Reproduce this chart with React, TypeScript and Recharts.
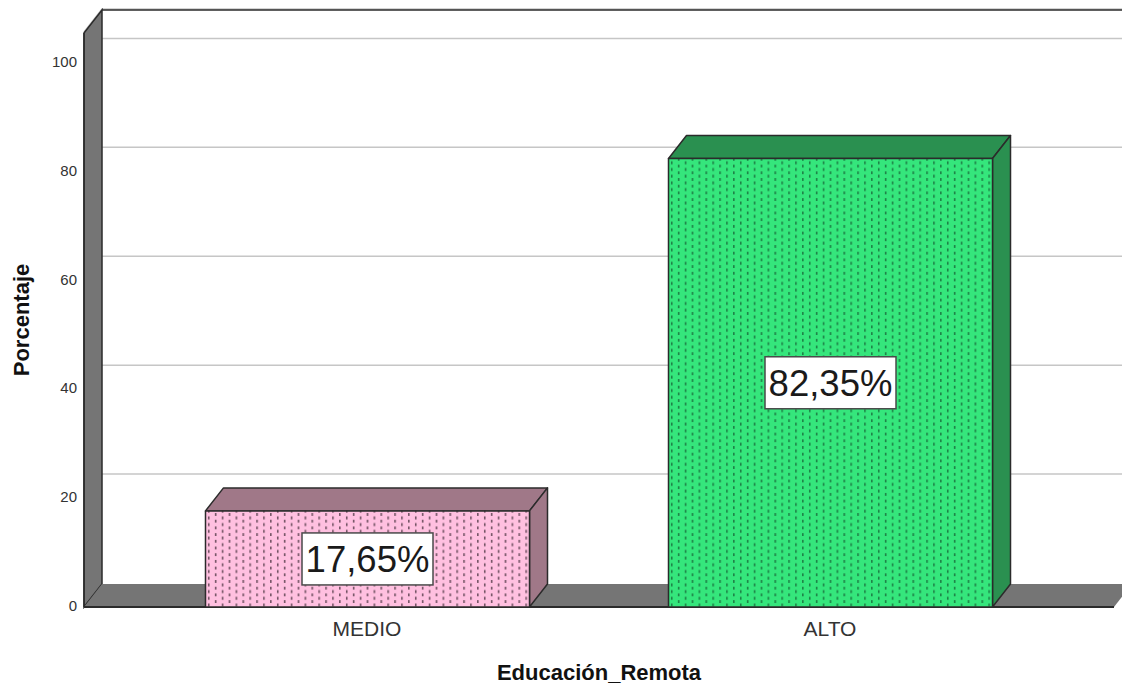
import { Bar, BarChart, CartesianGrid, LabelList, XAxis, YAxis, usePlotArea } from 'recharts';

const CATEGORIES = ['MEDIO', 'ALTO'];
const PERCENTS = [17.65, 82.35];
const Y_TICKS = [0, 20, 40, 60, 80, 100];
const FILLS = ['#FFC0E0', '#35E67C'];
const SHADES = ['#A07888', '#2A9050'];
const DOTS = ['#6A4C5C', '#1C7A42'];

const rows = CATEGORIES.map((name, index) => ({ name, percent: PERCENTS[index], index }));

const DEPTH_X = 18;
const DEPTH_Y = 23;
const FONT = '"Liberation Sans", Arial, sans-serif';
const EDGE = '#2b2b2b';

function Walls() {
  const area = usePlotArea();
  if (!area) return null;
  const { x, y, width, height } = area;
  const bottom = y + height;
  const right = x + width;
  return (
    <g>
      <polygon
        points={`${x},${y} ${x + DEPTH_X},${y - DEPTH_Y} ${x + DEPTH_X},${bottom - DEPTH_Y} ${x},${bottom}`}
        fill="#757575"
        stroke={EDGE}
        strokeWidth={1.5}
      />
      <polygon
        points={`${x},${bottom} ${x + DEPTH_X},${bottom - DEPTH_Y} ${right + DEPTH_X},${bottom - DEPTH_Y} ${right},${bottom}`}
        fill="#757575"
      />
      <line x1={x + DEPTH_X} y1={y - DEPTH_Y} x2={right + DEPTH_X} y2={y - DEPTH_Y} stroke={EDGE} strokeWidth={1.5} />
      <line x1={x} y1={bottom} x2={right} y2={bottom} stroke={EDGE} strokeWidth={2} />
    </g>
  );
}

function GridLine(props: any) {
  const { x1, x2, y1 } = props;
  if (y1 > 600) return null;
  const backY = y1 - DEPTH_Y - 1;
  const points = `${x1},${y1 - 1} ${x1 + DEPTH_X},${backY} ${x2 + DEPTH_X},${backY}`;
  return <polyline points={points} fill="none" stroke="#C6C6C6" strokeWidth={1.5} />;
}

function Bar3D(props: any) {
  const { x, y, width, height, payload } = props;
  const i = payload.index;
  const r = x + width;
  const b = y + height;
  return (
    <g stroke={EDGE} strokeWidth={1.5} strokeLinejoin="round">
      <polygon points={`${x},${y} ${x + DEPTH_X},${y - DEPTH_Y} ${r + DEPTH_X},${y - DEPTH_Y} ${r},${y}`} fill={SHADES[i]} />
      <polygon points={`${r},${y} ${r + DEPTH_X},${y - DEPTH_Y} ${r + DEPTH_X},${b - DEPTH_Y} ${r},${b}`} fill={SHADES[i]} />
      <rect x={x} y={y} width={width} height={height} fill={`url(#dots${i})`} />
    </g>
  );
}

function ValueBox(props: any) {
  const { x, y, width, height, value } = props;
  const cx = x + width / 2;
  const cy = y + height / 2;
  return (
    <g>
      <rect x={cx - 65.5} y={cy - 26} width={131} height={52} fill="#fff" stroke="#4a4a4a" strokeWidth={1.5} />
      <text x={cx} y={cy + 13.5} textAnchor="middle" fontFamily={FONT} fontSize={36.5} fill="#1a1a1a">
        {value.toFixed(2).replace('.', ',')}%
      </text>
    </g>
  );
}

export default function App() {
  return (
    <div style={{ position: 'absolute', left: 0, top: 0, width: 1122, height: 686, background: '#fff' }}>
      <BarChart
        width={1122}
        height={686}
        data={rows}
        margin={{ top: 33, right: 8, bottom: 0, left: 0 }}
        style={{ fontFamily: FONT }}
      >
        <defs>
          {FILLS.map((fill, i) => (
            <pattern key={fill} id={`dots${i}`} x={i === 0 ? 205 : 668} y={0} width={13.8} height={6.7} patternUnits="userSpaceOnUse">
              <rect width={13.8} height={6.7} fill={fill} />
              <rect x={3} y={0.5} width={1.5} height={3} fill={DOTS[i]} />
              <rect x={9.9} y={3.85} width={1.5} height={2.85} fill={DOTS[i]} />
            </pattern>
          ))}
        </defs>
        <Walls />
        <CartesianGrid vertical={false} horizontal={GridLine as any} />
        <XAxis
          dataKey="name"
          height={79}
          padding={{ left: 51.5, right: 52.5 }}
          axisLine={false}
          tickLine={false}
          tickMargin={8}
          tick={{ fontSize: 21, fill: '#333', fontFamily: FONT }}
          label={{
            value: 'Educación_Remota',
            position: 'insideBottom',
            offset: 6,
            style: { fontSize: 22, fontWeight: 700, fill: '#111', fontFamily: FONT },
          }}
        />
        <YAxis
          width={84}
          domain={[0, 105.4]}
          ticks={Y_TICKS}
          allowDataOverflow
          axisLine={{ stroke: EDGE, strokeWidth: 1.5 }}
          tickLine={false}
          tickSize={5}
          tickMargin={2}
          tick={{ fontSize: 15, fill: '#333', fontFamily: FONT, dy: -1 }}
          label={{
            value: 'Porcentaje',
            angle: -90,
            position: 'insideLeft',
            offset: 21,
            style: { fontSize: 22, fontWeight: 700, fill: '#111', fontFamily: FONT, textAnchor: 'middle' },
          }}
        />
        <Bar dataKey="percent" barSize={324} shape={Bar3D} isAnimationActive={false}>
          <LabelList dataKey="percent" content={ValueBox as any} />
        </Bar>
      </BarChart>
    </div>
  );
}
